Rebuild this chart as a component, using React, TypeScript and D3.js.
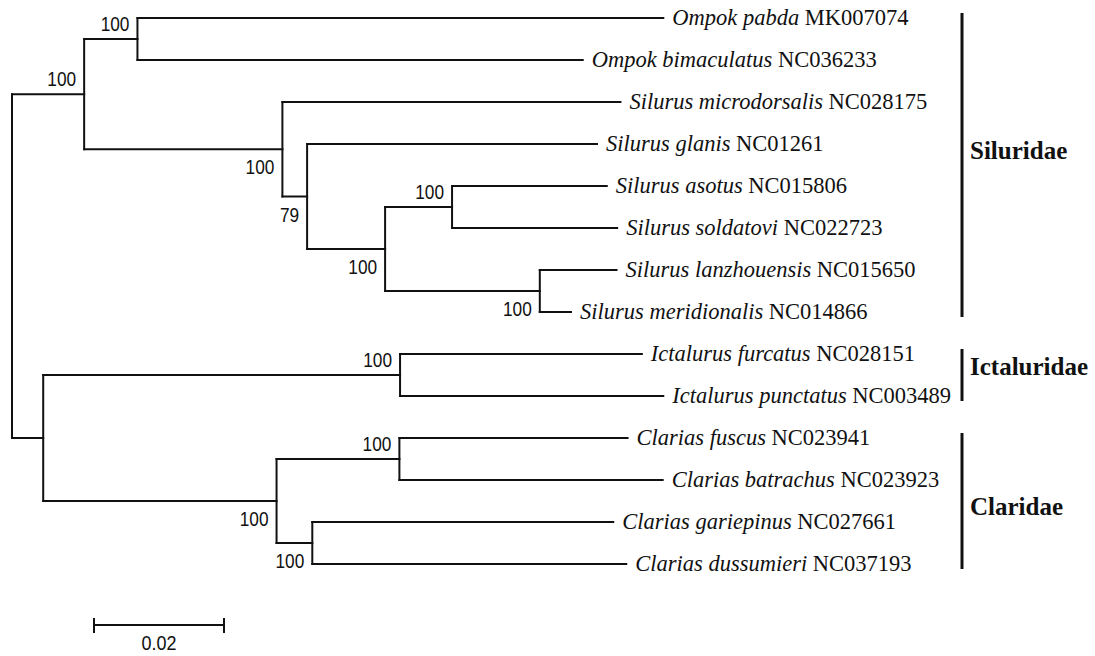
import React, { useEffect, useRef } from 'react';
import * as d3 from 'd3';

// tree: topology, branch lengths (subst./site) and bootstrap support
const newick =
  '(((Ompok pabda:0.0809,Ompok bimaculatus:0.0685)100:0.0082,' +
  '(Silurus microdorsalis:0.0520,(Silurus glanis:0.0446,' +
  '((Silurus asotus:0.0238,Silurus soldatovi:0.0254)100:0.0103,' +
  '(Silurus lanzhouensis:0.0118,Silurus meridionalis:0.0048)100:0.0238)100:0.0120)79:0.0038)100:0.0305)100:0.0111,' +
  '((Ictalurus furcatus:0.0372,Ictalurus punctatus:0.0405)100:0.0549,' +
  '((Clarias fuscus:0.0351,Clarias batrachus:0.0405)100:0.0189,' +
  '(Clarias gariepinus:0.0463,Clarias dussumieri:0.0483)100:0.0055)100:0.0359):0.0048);';

const taxa = [
  'Ompok pabda',
  'Ompok bimaculatus',
  'Silurus microdorsalis',
  'Silurus glanis',
  'Silurus asotus',
  'Silurus soldatovi',
  'Silurus lanzhouensis',
  'Silurus meridionalis',
  'Ictalurus furcatus',
  'Ictalurus punctatus',
  'Clarias fuscus',
  'Clarias batrachus',
  'Clarias gariepinus',
  'Clarias dussumieri',
];
const accessions = [
  'MK007074',
  'NC036233',
  'NC028175',
  'NC01261',
  'NC015806',
  'NC022723',
  'NC015650',
  'NC014866',
  'NC028151',
  'NC003489',
  'NC023941',
  'NC023923',
  'NC027661',
  'NC037193',
];

const cladeNames = ['Siluridae', 'Ictaluridae', 'Claridae'];
const cladeFirst = ['Ompok pabda', 'Ictalurus furcatus', 'Clarias fuscus'];
const cladeLast = ['Silurus meridionalis', 'Ictalurus punctatus', 'Clarias dussumieri'];

const scaleBarLength = 0.02;

type TNode = { name: string; length: number; support: number | null; children?: TNode[] };

function parseNewick(s: string): TNode {
  let i = 0;
  function node(): TNode {
    const n: TNode = { name: '', length: 0, support: null };
    if (s[i] === '(') {
      n.children = [];
      i++;
      n.children.push(node());
      while (s[i] === ',') {
        i++;
        n.children.push(node());
      }
      i++; // ')'
    }
    let label = '';
    while (i < s.length && !':,);'.includes(s[i])) label += s[i++];
    if (n.children) {
      if (label) n.support = +label;
    } else n.name = label.trim();
    if (s[i] === ':') {
      i++;
      let num = '';
      while (i < s.length && !',);'.includes(s[i])) num += s[i++];
      n.length = +num;
    }
    return n;
  }
  return node();
}

const W = 1095;
const H = 656;
const INK = '#111';

export default function App() {
  const ref = useRef<SVGSVGElement>(null);

  useEffect(() => {
    const svg = d3.select(ref.current);
    svg.selectAll('*').remove();

    const root: any = d3.hierarchy(parseNewick(newick));
    root.eachBefore((d: any) => {
      d.dist = (d.parent ? d.parent.dist : 0) + (d.parent ? d.data.length : 0);
    });

    const x = d3.scaleLinear().domain([0, scaleBarLength]).range([12, 142]);
    const y = d3.scaleLinear().domain([0, taxa.length - 1]).range([18, 564]);

    root.leaves().forEach((d: any) => {
      d.py = y(taxa.indexOf(d.data.name));
    });
    root.eachAfter((d: any) => {
      if (d.children) d.py = d3.mean(d.children, (c: any) => c.py);
      d.px = x(d.dist);
    });

    const g = svg.append('g');

    // horizontal branches
    g.selectAll('.hb')
      .data(root.descendants().filter((d: any) => d.parent))
      .enter()
      .append('line')
      .attr('class', 'hb')
      .attr('x1', (d: any) => d.parent.px)
      .attr('x2', (d: any) => d.px)
      .attr('y1', (d: any) => d.py)
      .attr('y2', (d: any) => d.py)
      .style('stroke', INK)
      .style('stroke-width', 2)
      .style('stroke-linecap', 'square');

    // vertical connectors
    g.selectAll('.vb')
      .data(root.descendants().filter((d: any) => d.children))
      .enter()
      .append('line')
      .attr('class', 'vb')
      .attr('x1', (d: any) => d.px)
      .attr('x2', (d: any) => d.px)
      .attr('y1', (d: any) => d.children[0].py)
      .attr('y2', (d: any) => d.children[d.children.length - 1].py)
      .style('stroke', INK)
      .style('stroke-width', 2)
      .style('stroke-linecap', 'square');

    // bootstrap values: above the branch for upper child, below for lower child
    const supported = root.descendants().filter((d: any) => d.data.support != null && d.parent);
    g.selectAll('.bs')
      .data(supported)
      .enter()
      .append('text')
      .attr('class', 'bs')
      .attr('x', (d: any) => d.px - 8)
      .attr('y', (d: any) => (d.parent.children[0] === d ? d.py - 8 : d.py + 25))
      .attr('textLength', (d: any) => String(d.data.support).length * 9.6)
      .attr('lengthAdjust', 'spacingAndGlyphs')
      .text((d: any) => d.data.support)
      .style('font-family', '"Liberation Sans", Arial, sans-serif')
      .style('font-size', '21px')
      .style('fill', INK)
      .style('text-anchor', 'end');

    // leaf labels
    const leafText = g
      .selectAll('.leaf')
      .data(root.leaves())
      .enter()
      .append('text')
      .attr('class', 'leaf')
      .attr('x', (d: any) => d.px + 9)
      .attr('y', (d: any) => d.py + 7)
      .style('font-family', '"Liberation Serif", "Times New Roman", serif')
      .style('font-size', '22.5px')
      .style('fill', INK);
    leafText.append('tspan').style('font-style', 'italic').text((d: any) => d.data.name);
    leafText.append('tspan').text((d: any) => ' ' + accessions[taxa.indexOf(d.data.name)]);

    // clade bars
    const labelDy = [-6, 0, 14];
    cladeNames.forEach((name, i) => {
      const y0 = y(taxa.indexOf(cladeFirst[i])) - 5;
      const y1 = y(taxa.indexOf(cladeLast[i])) + 5;
      g.append('line')
        .attr('x1', 962)
        .attr('x2', 962)
        .attr('y1', y0)
        .attr('y2', y1)
        .style('stroke', INK)
        .style('stroke-width', 3);
      g.append('text')
        .attr('x', 970)
        .attr('y', (y0 + y1) / 2 + labelDy[i])
        .text(name)
        .style('font-family', '"Liberation Serif", "Times New Roman", serif')
        .style('font-weight', 'bold')
        .style('font-size', '25px')
        .style('fill', INK);
    });

    // scale bar
    const sb = g.append('g').attr('transform', `translate(${94 - x(0)},625)`);
    sb.append('line')
      .attr('x1', x(0))
      .attr('x2', x(scaleBarLength))
      .style('stroke', INK)
      .style('stroke-width', 2);
    [0, scaleBarLength].forEach((v) => {
      sb.append('line')
        .attr('x1', x(v))
        .attr('x2', x(v))
        .attr('y1', -7)
        .attr('y2', 8)
        .style('stroke', INK)
        .style('stroke-width', 2);
    });
    sb.append('text')
      .attr('x', (x(0) + x(scaleBarLength)) / 2)
      .attr('y', 25)
      .attr('textLength', 35)
      .attr('lengthAdjust', 'spacingAndGlyphs')
      .text(String(scaleBarLength))
      .style('font-family', '"Liberation Sans", Arial, sans-serif')
      .style('font-size', '20px')
      .style('fill', INK)
      .style('text-anchor', 'middle');
  }, []);

  return (
    <svg
      ref={ref}
      width={W}
      height={H}
      style={{ position: 'absolute', left: 0, top: 0, background: '#fff' }}
    />
  );
}
